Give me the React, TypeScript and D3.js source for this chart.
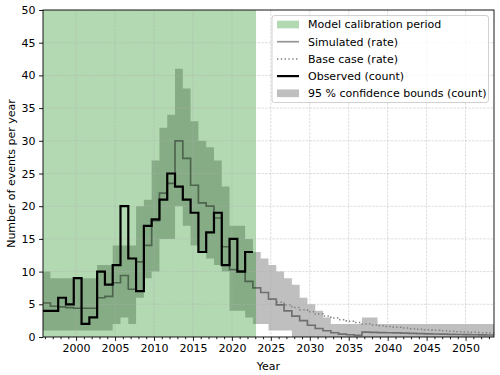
import React, { useEffect, useRef } from 'react';
import * as d3 from 'd3';

// yearly bins, each year drawn as a step over [year - 0.3, year + 0.7]
const years = d3.range(1996, 2054);
const obsYears = d3.range(1996, 2023);
const baseYears = d3.range(2025, 2054);

const observed = [4, 4, 6, 5, 9, 2, 3, 10, 8, 11, 20, 12, 7, 17, 18, 21, 25, 23, 21, 19, 13, 16, 19, 11, 15, 10, 13];

const simulated = [
  5.2, 4.7, 4.6, 4.5, 4.4, 4.4, 4.4, 6.0, 6.2, 8.3, 9.4, 7.3, 11.5, 14, 17.8, 22, 23.5, 30, 27.3, 23.2,
  20.5, 20, 18.2, 13.8, 10.3, 10.1, 8.5, 7.5, 6.8, 5.8, 4.9, 4.0, 3.2, 2.5, 1.8, 1.3, 0.95, 0.65, 0.45, 0.35,
  0.25, 0.75, 0.72, 0.68, 0.65, 0.62, 0.58, 0.55, 0.52, 0.49, 0.46, 0.43, 0.41, 0.38, 0.36, 0.34, 0.32, 0.3,
];

const bandLow = [
  1, 1, 1, 1, 1, 1, 1, 1, 1, 2, 3, 2, 6, 9, 10, 15, 15, 20, 17, 14,
  13, 12, 11, 10, 4, 4, 3, 2, 2, 1, 1, 1, 0, 0, 0, 0, 0, 0, 0, 0,
  0, 0, 0, 0, 0, 0, 0, 0, 0, 0, 0, 0, 0, 0, 0, 0, 0, 0,
];

const bandHigh = [
  10, 9, 9, 9, 9, 9, 9, 11, 11, 14, 14, 14, 20, 21, 27, 32, 34, 41, 38, 33,
  30, 29, 27, 23, 17, 17, 15, 13, 12, 11, 10, 9, 8, 6, 5, 4, 3, 2, 2, 2,
  2, 3, 3, 2, 2, 2, 2, 2, 2, 2, 2, 2, 2, 2, 2, 2, 2, 2,
];

const baseCase = [
  5.8, 5.3, 4.9, 4.5, 4.15, 3.85, 3.5, 3.2, 2.9, 2.65, 2.4, 2.2, 2.0, 1.85, 1.72,
  1.6, 1.48, 1.38, 1.28, 1.19, 1.1, 1.02, 0.95, 0.88, 0.82, 0.76, 0.71, 0.66, 0.62,
];

const calibrationEnd = 2023.1;
const xTicks = [2000, 2005, 2010, 2015, 2020, 2025, 2030, 2035, 2040, 2045, 2050];
const yTicks = [0, 5, 10, 15, 20, 25, 30, 35, 40, 45, 50];
const legendLabels = [
  'Model calibration period',
  'Simulated (rate)',
  'Base case (rate)',
  'Observed (count)',
  '95 % confidence bounds (count)',
];

const FONT = 'DejaVu Sans';

export default function App() {
  const ref = useRef<SVGSVGElement>(null);

  useEffect(() => {
    const m = { left: 43, right: 494, top: 10, bottom: 337 };
    const svg = d3.select(ref.current);
    svg.selectAll('*').remove();

    const x = d3.scaleLinear().domain([1995.75, 2053.65]).range([m.left, m.right]);
    const y = d3.scaleLinear().domain([0, 50]).range([m.bottom, m.top]);

    // step helper: points for curveStepAfter, closing the last bin
    const stepPts = (yrs: number[], vals: number[]) => {
      const pts = yrs.map((yr, i) => [yr - 0.3, vals[i]]);
      pts.push([yrs[yrs.length - 1] + 0.7, vals[vals.length - 1]]);
      return pts;
    };

    svg.append('clipPath').attr('id', 'plot-clip')
      .append('rect')
      .attr('x', m.left).attr('y', m.top)
      .attr('width', m.right - m.left).attr('height', m.bottom - m.top);

    const plot = svg.append('g').attr('clip-path', 'url(#plot-clip)');

    // confidence band
    const bandPts = years.map((yr, i) => ({ x: yr - 0.3, lo: bandLow[i], hi: bandHigh[i] }));
    bandPts.push({ x: years[years.length - 1] + 0.7, lo: bandLow[bandLow.length - 1], hi: bandHigh[bandHigh.length - 1] });
    const area = d3.area<any>()
      .x(d => x(d.x))
      .y0(d => y(d.lo))
      .y1(d => y(d.hi))
      .curve(d3.curveStepAfter);
    plot.append('path')
      .attr('d', area(bandPts))
      .attr('fill', 'rgb(128,128,128)')
      .attr('fill-opacity', 0.5);

    // calibration span
    plot.append('rect')
      .attr('x', x(1995.75)).attr('y', m.top)
      .attr('width', x(calibrationEnd) - x(1995.75))
      .attr('height', m.bottom - m.top)
      .attr('fill', '#008000')
      .attr('fill-opacity', 0.3);

    // grid
    const grid = plot.append('g')
      .attr('stroke', '#b0b0b0')
      .attr('stroke-width', 0.8)
      .attr('stroke-dasharray', '2.5,1.2')
      .attr('stroke-opacity', 0.55);
    grid.selectAll('.gx').data(xTicks).join('line')
      .attr('x1', d => x(d)).attr('x2', d => x(d))
      .attr('y1', m.top).attr('y2', m.bottom);
    grid.selectAll('.gy').data(yTicks).join('line')
      .attr('x1', m.left).attr('x2', m.right)
      .attr('y1', d => y(d)).attr('y2', d => y(d));

    const line = d3.line<any>()
      .x(d => x(d[0]))
      .y(d => y(d[1]))
      .curve(d3.curveStepAfter);

    // simulated
    plot.append('path')
      .attr('d', line(stepPts(years, simulated)))
      .attr('fill', 'none')
      .attr('stroke', '#000')
      .attr('stroke-opacity', 0.42)
      .attr('stroke-width', 1.67);

    // base case
    plot.append('path')
      .attr('d', line(stepPts(baseYears, baseCase)))
      .attr('fill', 'none')
      .attr('stroke', '#808080')
      .attr('stroke-width', 1.5)
      .attr('stroke-dasharray', '1.4,2.4');

    // observed
    plot.append('path')
      .attr('d', line(stepPts(obsYears, observed)))
      .attr('fill', 'none')
      .attr('stroke', '#000')
      .attr('stroke-width', 2.2)
      .attr('stroke-linejoin', 'miter');

    // axes
    const xAxis = d3.axisBottom(x)
      .tickValues(xTicks)
      .tickFormat(d3.format('d'))
      .tickSize(3.9)
      .tickPadding(3.5)
      .tickSizeOuter(0);
    const xMinor = d3.axisBottom(x)
      .tickValues(years.filter(yr => yr % 5 !== 0))
      .tickFormat(() => '')
      .tickSize(2.2)
      .tickSizeOuter(0);
    const yAxis = d3.axisLeft(y)
      .tickValues(yTicks)
      .tickSize(3.9)
      .tickPadding(3.5)
      .tickSizeOuter(0);

    const styleAxis = (g: any) => {
      g.select('.domain').remove();
      g.selectAll('line').attr('stroke', '#000').attr('stroke-width', 0.9);
      g.selectAll('text').attr('fill', '#000').style('font-family', FONT).style('font-size', '11px');
    };

    svg.append('g').attr('transform', `translate(0,${m.bottom})`).call(xMinor).call(styleAxis);
    svg.append('g').attr('transform', `translate(0,${m.bottom})`).call(xAxis).call(styleAxis);
    svg.append('g').attr('transform', `translate(${m.left},0)`).call(yAxis).call(styleAxis);

    // spines
    svg.append('rect')
      .attr('x', m.left).attr('y', m.top)
      .attr('width', m.right - m.left).attr('height', m.bottom - m.top)
      .attr('fill', 'none')
      .attr('stroke', '#000')
      .attr('stroke-width', 0.9);

    // axis labels
    svg.append('text')
      .attr('x', (m.left + m.right) / 2).attr('y', 370)
      .attr('text-anchor', 'middle')
      .style('font-family', FONT).style('font-size', '11px')
      .text('Year');
    svg.append('text')
      .attr('transform', `translate(15,${(m.top + m.bottom) / 2}) rotate(-90)`)
      .attr('text-anchor', 'middle')
      .style('font-family', FONT).style('font-size', '11px')
      .text('Number of events per year');

    // legend
    const lg = svg.append('g');
    lg.append('rect')
      .attr('x', 272).attr('y', 15.5)
      .attr('width', 216.5).attr('height', 87)
      .attr('rx', 2.5)
      .attr('fill', '#fff').attr('fill-opacity', 0.8)
      .attr('stroke', '#cccccc').attr('stroke-width', 0.9);

    const rowY = (i: number) => 24.5 + i * 17.2;
    const hx0 = 277, hx1 = 299;

    lg.append('rect')
      .attr('x', hx0).attr('y', rowY(0) - 3.85)
      .attr('width', hx1 - hx0).attr('height', 7.7)
      .attr('fill', '#008000').attr('fill-opacity', 0.3);
    lg.append('line')
      .attr('x1', hx0).attr('x2', hx1).attr('y1', rowY(1)).attr('y2', rowY(1))
      .attr('stroke', '#000').attr('stroke-opacity', 0.42).attr('stroke-width', 1.67);
    lg.append('line')
      .attr('x1', hx0).attr('x2', hx1).attr('y1', rowY(2)).attr('y2', rowY(2))
      .attr('stroke', '#808080').attr('stroke-width', 1.5).attr('stroke-dasharray', '1.4,2.4');
    lg.append('line')
      .attr('x1', hx0).attr('x2', hx1).attr('y1', rowY(3)).attr('y2', rowY(3))
      .attr('stroke', '#000').attr('stroke-width', 2.2);
    lg.append('rect')
      .attr('x', hx0).attr('y', rowY(4) - 3.85)
      .attr('width', hx1 - hx0).attr('height', 7.7)
      .attr('fill', 'rgb(128,128,128)').attr('fill-opacity', 0.5);

    lg.selectAll('.lt').data(legendLabels).join('text')
      .attr('x', 308)
      .attr('y', (_d, i) => rowY(i))
      .attr('dy', '0.36em')
      .style('font-family', FONT).style('font-size', '11px')
      .text(d => d);
  }, []);

  return (
    <svg ref={ref} width={500} height={375} style={{ position: 'absolute', left: 0, top: 0, background: '#fff' }} />
  );
}
